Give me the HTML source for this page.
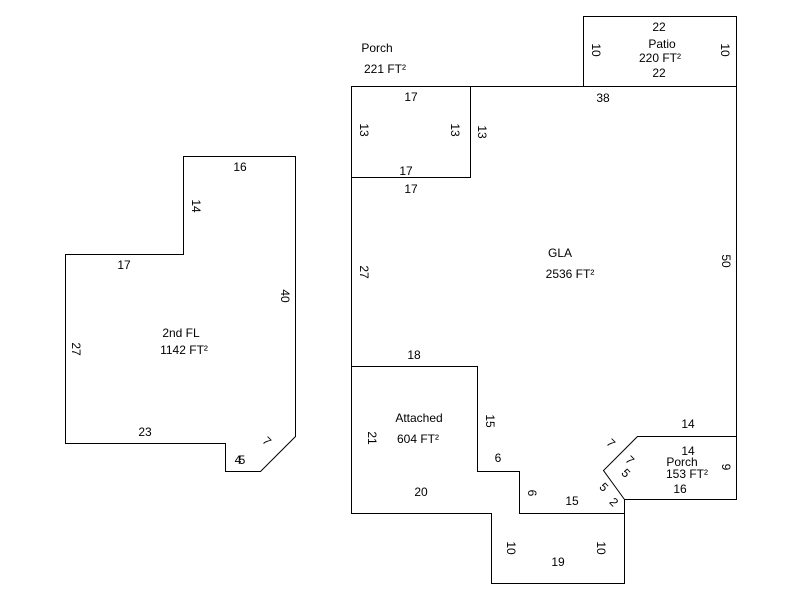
<!DOCTYPE html>
<html><head><style>body{margin:0;background:#fff}svg text{font-family:"Liberation Sans",Arial,sans-serif;font-size:12px;fill:#000}</style></head><body>
<svg width="800" height="600" viewBox="0 0 800 600" xmlns="http://www.w3.org/2000/svg">
<g fill="none" stroke="#000" stroke-width="1" transform="translate(0.5,0.5)">
<polygon points="65,254 183,254 183,156 295,156 295,436 260,471 225,471 225,443 65,443"/>
<polygon points="351,86 736,86 736,436 637,436 603,470 624,499 624,583 491,583 491,513 351,513"/>
<polyline points="637,436 637,436 736,436 736,499 624,499"/>
<polyline points="351,366 477,366 477,471 519,471 519,513 624,513"/>
<polyline points="351,177 470,177 470,86"/>
<polyline points="583,86 583,16 736,16 736,86"/>
</g>
<g text-anchor="middle">
<text x="240" y="171">16</text>
<text x="124" y="269">17</text>
<text x="145" y="436">23</text>
<text x="238" y="464">4</text><text x="242" y="464">5</text>
<text x="181" y="337">2nd FL</text>
<text x="184" y="354">1142 FT²</text>
<text x="377" y="52">Porch</text>
<text x="385" y="73">221 FT²</text>
<text x="659" y="31">22</text>
<text x="662" y="48">Patio</text>
<text x="660" y="62">220 FT²</text>
<text x="659" y="77">22</text>
<text x="411" y="101">17</text>
<text x="603" y="102">38</text>
<text x="406" y="175">17</text>
<text x="411" y="193">17</text>
<text x="560" y="257">GLA</text>
<text x="570" y="278">2536 FT²</text>
<text x="414" y="359">18</text>
<text x="419" y="422">Attached</text>
<text x="418" y="443">604 FT²</text>
<text x="498" y="462">6</text>
<text x="421" y="496">20</text>
<text x="572" y="505">15</text>
<text x="558" y="566">19</text>
<text x="688" y="428">14</text>
<text x="688" y="455">14</text>
<text x="682" y="466">Porch</text>
<text x="687" y="478">153 FT²</text>
<text x="680" y="493">16</text>
</g>
<g text-anchor="middle">
<text transform="translate(192,206) rotate(90)">14</text>
<text transform="translate(281,296) rotate(90)">40</text>
<text transform="translate(72,349) rotate(90)">27</text>
<text transform="translate(264,444) rotate(45)">7</text>
<text transform="translate(592,50) rotate(90)">10</text>
<text transform="translate(721,50) rotate(90)">10</text>
<text transform="translate(360,130) rotate(90)">13</text>
<text transform="translate(451,130) rotate(90)">13</text>
<text transform="translate(478,132) rotate(90)">13</text>
<text transform="translate(360,272) rotate(90)">27</text>
<text transform="translate(722,261) rotate(90)">50</text>
<text transform="translate(486,421) rotate(90)">15</text>
<text transform="translate(368,438) rotate(90)">21</text>
<text transform="translate(528,493) rotate(90)">6</text>
<text transform="translate(507,548) rotate(90)">10</text>
<text transform="translate(597,548) rotate(90)">10</text>
<text transform="translate(722,467) rotate(90)">9</text>
<text transform="translate(608,446) rotate(45)">7</text>
<text transform="translate(627,463) rotate(45)">7</text>
<text transform="translate(623,476) rotate(45)">5</text>
<text transform="translate(601,490) rotate(45)">5</text>
<text transform="translate(611,505) rotate(45)">2</text>
</g>
</svg>
</body></html>
